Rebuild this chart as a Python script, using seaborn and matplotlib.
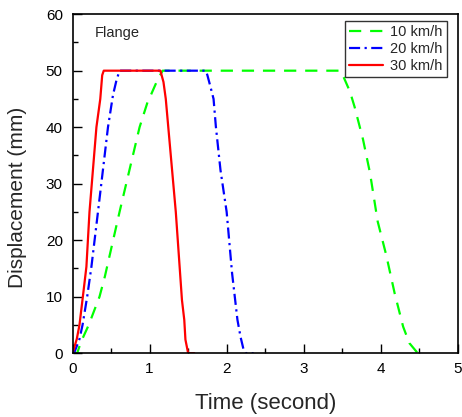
import matplotlib
matplotlib.use("Agg")
import matplotlib.pyplot as plt
import seaborn as sns
import pandas as pd

# ---- data ----
t_10 = [0.0, 0.06, 0.11, 0.21, 0.35, 0.42, 0.61, 0.87, 0.975, 1.02, 1.11, 1.17,
        3.47, 3.52, 3.60, 3.66, 3.77, 3.86, 3.96, 4.07, 4.18, 4.29, 4.37, 4.48, 4.57]
d_10 = [0.0, 0.0, 2.0, 5.0, 10.0, 13.6, 25.0, 40.0, 44.5, 45.8, 48.6, 50.0,
        50.0, 48.8, 46.3, 43.6, 37.8, 31.9, 23.3, 17.4, 10.6, 4.7, 1.8, 0.0, 0.0]

t_20 = [0.0, 0.02, 0.09, 0.13, 0.19, 0.245, 0.33, 0.46, 0.525, 0.57, 0.61,
        1.73, 1.75, 1.785, 1.83, 1.86, 1.92, 2.00, 2.07, 2.14, 2.18, 2.22, 2.25, 2.35]
d_20 = [0.0, 0.0, 2.5, 5.0, 10.0, 15.3, 25.0, 40.0, 45.7, 48.3, 50.0,
        50.0, 49.2, 47.4, 45.0, 40.1, 32.4, 25.0, 14.2, 5.9, 2.9, 0.6, 0.0, 0.0]

t_30 = [0.0, 0.055, 0.09, 0.134, 0.18, 0.22, 0.31, 0.36, 0.385, 0.405,
        1.14, 1.18, 1.21, 1.34, 1.42, 1.45, 1.465, 1.50, 1.58]
d_30 = [0.0, 2.5, 5.0, 10.0, 15.3, 25.0, 40.0, 45.0, 49.2, 50.0,
        50.0, 48.0, 45.0, 25.0, 9.4, 5.9, 2.4, 0.0, 0.0]

labels = ["10 km/h", "20 km/h", "30 km/h"]
colors = ["#00FF00", "#0000FF", "#FF0000"]
styles = [(0, (5.5, 4.0)), (0, (5.0, 2.0, 1.0, 2.0)), "-"]

x_ticks = [0, 1, 2, 3, 4, 5]
y_ticks = [0, 10, 20, 30, 40, 50, 60]

# ---- plot ----
sns.set_style("ticks")
plt.rcParams["font.family"] = ["Liberation Sans", "DejaVu Sans"]

fig = plt.figure(figsize=(4.62, 4.17), dpi=100)
ax = fig.add_axes([0.157, 0.153, 0.834, 0.813])

series = [(t_10, d_10), (t_20, d_20), (t_30, d_30)]
for (tt, dd), lab, col, ls in zip(series, labels, colors, styles):
    df = pd.DataFrame({"t": tt, "d": dd})
    sns.lineplot(data=df, x="t", y="d", ax=ax, color=col, linestyle=ls,
                 linewidth=1.6, label=lab, sort=False, estimator=None)

ax.set_xlim(0, 5)
ax.set_ylim(0, 60)
ax.set_xticks(x_ticks)
ax.set_yticks(y_ticks)
ax.set_xticks([0.5, 1.5, 2.5, 3.5, 4.5], minor=True)
ax.set_yticks([5, 15, 25, 35, 45, 55], minor=True)
ax.tick_params(which="both", direction="in", colors="black", labelsize=11)
ax.tick_params(which="major", length=6.5, width=1.0)
ax.tick_params(which="minor", length=3.5, width=1.0)
ax.tick_params(axis="x", pad=6)
ax.tick_params(axis="y", pad=7)
for s in ax.spines.values():
    s.set_visible(True)
    s.set_linewidth(1.2)
    s.set_color("black")

ax.set_xlabel("Time (second)", fontsize=16)
ax.set_ylabel("Displacement (mm)", fontsize=15)
ax.xaxis.set_label_coords(0.5, -0.117)
ax.xaxis.label.set_va("top")
ax.yaxis.set_label_coords(-0.119, 0.459)

ax.text(0.29, 56.6, "Flange", fontsize=10.5, va="center", ha="left")

leg = ax.legend(loc="upper right", bbox_to_anchor=(0.971, 0.981), borderaxespad=0,
                frameon=True, fancybox=False, fontsize=10.5, handlelength=2.3,
                handletextpad=0.5, labelspacing=0.2, borderpad=0.3)
leg.get_frame().set_edgecolor("black")
leg.get_frame().set_linewidth(1.0)

fig.savefig("out.png", dpi=100)
